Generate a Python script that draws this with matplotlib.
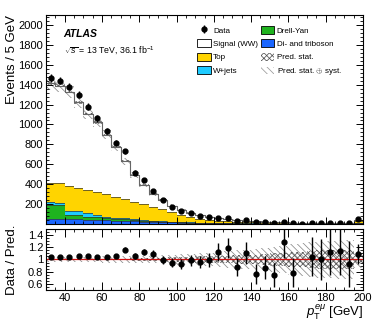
import numpy as np
import matplotlib
matplotlib.use('Agg')
import matplotlib.pyplot as plt
from matplotlib.patches import Patch
from matplotlib.ticker import MultipleLocator, FuncFormatter

plt.rcParams['font.family'] = ['Liberation Sans', 'DejaVu Sans']
plt.rcParams['mathtext.fontset'] = 'custom'
plt.rcParams['mathtext.rm'] = 'Liberation Sans'
plt.rcParams['mathtext.it'] = 'Liberation Sans:italic'
plt.rcParams['mathtext.bf'] = 'Liberation Sans:bold'
plt.rcParams['hatch.linewidth'] = 0.55

# pT(e mu) bins, 5 GeV wide, last bin includes overflow
edges = np.arange(30, 205, 5)

diboson = [55, 55, 52, 47, 45, 40, 38, 35, 32, 28, 25, 22, 19, 16, 14, 12, 10, 8.5, 7, 6,
           5, 4.5, 4, 3.5, 3, 2.5, 2.2, 2, 1.7, 1.5, 1.3, 1.2, 1.0, 8]
drellyan = [136, 135, 43, 43, 29, 27, 19, 15, 14, 10, 10, 8, 6, 5, 4, 3, 2.5, 2, 1.5, 1.2,
            1, 0.8, 0.6, 0.5, 0.4, 0.3, 0.3, 0.3, 0.2, 0.2, 0.2, 0.2, 0.1, 1]
wjets = [35, 25, 38, 38, 35, 25, 18, 14, 10, 8, 6, 5, 4, 3.5, 3, 2.5, 2, 1.8, 1.5, 1.2,
         1, 0.9, 0.8, 0.7, 0.6, 0.5, 0.4, 0.4, 0.3, 0.3, 0.3, 0.2, 0.2, 2]
top = [189, 194, 249, 231, 233, 230, 227, 211, 192, 176, 158, 137, 119, 95, 74, 50, 39, 29,
       24, 19.5, 16, 13, 10.5, 8.5, 7, 6, 5, 4, 3.5, 2.7, 2.4, 2.1, 1.8, 15]
signal = [998, 980, 945, 862, 766, 700, 596, 496, 381, 267, 193, 129, 92, 64, 46, 44, 35, 29,
          22, 20, 17, 15, 13, 11, 9, 7.7, 6.1, 5.3, 4.8, 4.3, 3.8, 3.3, 3.4, 17]
data = [1465, 1440, 1380, 1300, 1180, 1060, 931, 817, 730, 516, 439, 328, 238, 174, 131, 110,
        85, 70, 63, 57, 35, 38, 22, 21, 15, 22, 11, 0, 11, 9, 9, 8, 6, 47]

# relative uncertainties on the prediction
stat_rel = [0.01, 0.01, 0.01, 0.01, 0.01, 0.012, 0.012, 0.013, 0.015, 0.02, 0.02, 0.025, 0.03,
            0.035, 0.04, 0.045, 0.05, 0.055, 0.06, 0.065, 0.07, 0.075, 0.08, 0.09, 0.1, 0.11,
            0.12, 0.13, 0.14, 0.15, 0.15, 0.16, 0.16, 0.06]
syst_rel = [0.045, 0.045, 0.045, 0.045, 0.045, 0.045, 0.05, 0.05, 0.05, 0.055, 0.06, 0.06,
            0.065, 0.07, 0.075, 0.08, 0.09, 0.1, 0.11, 0.12, 0.13, 0.14, 0.15, 0.16, 0.17,
            0.2, 0.22, 0.24, 0.25, 0.26, 0.26, 0.27, 0.27, 0.12]

components = [
    (diboson, '#1a66ff', 'Di- and triboson'),
    (drellyan, '#1fb31f', 'Drell-Yan'),
    (wjets, '#1ecbff', 'W+jets'),
    (top, '#ffd400', 'Top'),
    (signal, 'white', 'Signal (WW)'),
]

data = np.array(data, dtype=float)
stat_rel = np.array(stat_rel)
syst_rel = np.array(syst_rel)
centers = 0.5 * (edges[:-1] + edges[1:])

fig = plt.figure(figsize=(3.82, 3.23), dpi=100)
ax = fig.add_axes([0.1204, 0.3065, 0.8299, 0.6471])
rax = fig.add_axes([0.1204, 0.1022, 0.8299, 0.1888])

cum = np.zeros(len(centers))
for vals, color, name in components:
    vals = np.array(vals, dtype=float)
    ax.stairs(cum + vals, edges, baseline=cum, fill=True, color=color, lw=0)
    ax.stairs(cum + vals, edges, baseline=None, color='#333333', lw=0.5)
    cum = cum + vals
pred = cum

# uncertainty bands
tot_rel = np.sqrt(stat_rel**2 + syst_rel**2)
ax.stairs(pred * (1 + tot_rel), edges, baseline=pred * (1 - tot_rel), fill=True,
          facecolor='none', edgecolor='#8a8a8a', hatch='\\\\\\\\\\', lw=0)
ax.stairs(pred * (1 + stat_rel), edges, baseline=pred * (1 - stat_rel), fill=True,
          facecolor='none', edgecolor='#5a5a5a', hatch='xxxxxx', lw=0)
ax.stairs(pred, edges, baseline=None, color='#666666', lw=0.8)

derr = ax.errorbar(centers, data, yerr=np.sqrt(data), fmt='o', color='black', ms=3.5,
                   elinewidth=1, capsize=0)

ax.set_xlim(30, 200)
ax.set_ylim(0, 2100)
ax.yaxis.set_major_locator(MultipleLocator(200))
ax.yaxis.set_minor_locator(MultipleLocator(40))
ax.yaxis.set_major_formatter(FuncFormatter(lambda v, p: '' if v == 0 else '%d' % v))
ax.xaxis.set_major_locator(MultipleLocator(20))
ax.xaxis.set_minor_locator(MultipleLocator(5))
ax.tick_params(labelbottom=False)
ax.set_ylabel('Events / 5 GeV', fontsize=9.5, loc='top')
ax.yaxis.set_label_coords(-0.088, 1.0)

ax.text(0.054, 0.91, 'ATLAS', transform=ax.transAxes, fontsize=7.5, fontweight='bold',
        fontstyle='italic', va='center')
ax.text(0.058, 0.826, r'$\sqrt{s}$ = 13 TeV, 36.1 fb$^{-1}$', transform=ax.transAxes,
        fontsize=6.3, va='center')

handles = [
    derr,
    Patch(facecolor='white', edgecolor='black', lw=0.6),
    Patch(facecolor='#ffd400', edgecolor='black', lw=0.6),
    Patch(facecolor='#1ecbff', edgecolor='black', lw=0.6),
    Patch(facecolor='#1fb31f', edgecolor='black', lw=0.6),
    Patch(facecolor='#1a66ff', edgecolor='black', lw=0.6),
    Patch(facecolor='white', edgecolor='#555555', hatch='xxxxxx', lw=0),
    Patch(facecolor='white', edgecolor='#999999', hatch='\\\\\\\\\\', lw=0),
]
labels = ['Data', 'Signal (WW)', 'Top', 'W+jets', 'Drell-Yan', 'Di- and triboson',
          'Pred. stat.', r'Pred. stat. $\oplus$ syst.']
ax.legend(handles, labels, ncol=2, loc='upper left', bbox_to_anchor=(197 / 382, 1 - 26 / 323),
          bbox_transform=fig.transFigure, frameon=False, fontsize=5.8, borderpad=0,
          borderaxespad=0, handlelength=1.7, handleheight=1.1, handletextpad=0.3,
          labelspacing=0.6, columnspacing=0.3)

# ratio panel
ratio = np.where(data > 0, data / pred, np.nan)
rerr = np.sqrt(data) / pred
rax.stairs(1 + tot_rel, edges, baseline=1 - tot_rel, fill=True, facecolor='none',
           edgecolor='#8a8a8a', hatch='\\\\\\\\\\', lw=0)
rax.stairs(1 + stat_rel, edges, baseline=1 - stat_rel, fill=True, facecolor='none',
           edgecolor='#5a5a5a', hatch='xxxxxx', lw=0)
rax.axhline(1, color='#d01010', lw=0.9)
rax.errorbar(centers, ratio, yerr=rerr, fmt='o', color='black', ms=3.5, elinewidth=1, capsize=0)
rax.set_xlim(30, 200)
rax.set_ylim(0.5, 1.5)
rax.yaxis.set_major_locator(MultipleLocator(0.2))
rax.yaxis.set_minor_locator(MultipleLocator(0.05))
rax.yaxis.set_major_formatter(FuncFormatter(lambda v, p: '%g' % round(v, 2) if 0.55 < v < 1.45 else ''))
rax.xaxis.set_major_locator(MultipleLocator(20))
rax.xaxis.set_minor_locator(MultipleLocator(5))
rax.set_ylabel('Data / Pred.', fontsize=9.5)
rax.yaxis.set_label_coords(-0.088, 0.5)
rax.set_xlabel(r'$p_{\mathrm{T}}^{e\mu}$ [GeV]', fontsize=9.5, loc='right', labelpad=0)

for a in (ax, rax):
    a.tick_params(which='both', direction='in', top=True, right=True, labelsize=8, pad=2)
    a.tick_params(which='major', length=5, width=0.7)
    a.tick_params(which='minor', length=2.5, width=0.6)
    for s in a.spines.values():
        s.set_linewidth(0.8)
rax.tick_params(axis='x', which='major', length=6)

fig.savefig('out.png', dpi=100)
